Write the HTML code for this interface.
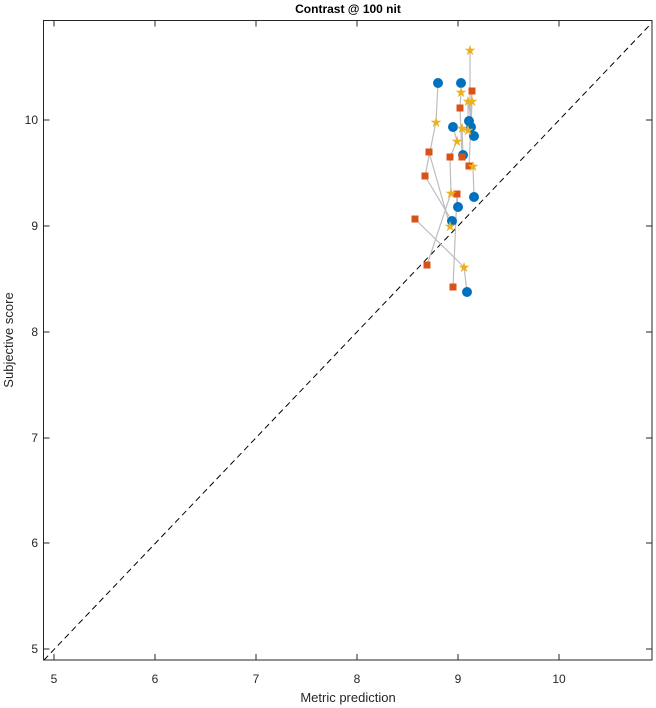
<!DOCTYPE html>
<html><head><style>body{margin:0;background:#fff}svg{display:block;font-family:"Liberation Sans",sans-serif}</style></head>
<body>
<svg width="656" height="708" xmlns="http://www.w3.org/2000/svg">
<rect x="0" y="0" width="656" height="708" fill="#fff"/>
<text x="348" y="13" font-size="12" font-weight="bold" text-anchor="middle" fill="#000">Contrast @ 100 nit</text>
<g stroke="#262626" stroke-width="1">
<line x1="54" y1="660" x2="54" y2="654"/><line x1="155" y1="660" x2="155" y2="654"/><line x1="256" y1="660" x2="256" y2="654"/><line x1="357" y1="660" x2="357" y2="654"/><line x1="458" y1="660" x2="458" y2="654"/><line x1="559" y1="660" x2="559" y2="654"/>
<line x1="54" y1="20.5" x2="54" y2="26.5"/><line x1="155" y1="20.5" x2="155" y2="26.5"/><line x1="256" y1="20.5" x2="256" y2="26.5"/><line x1="357" y1="20.5" x2="357" y2="26.5"/><line x1="458" y1="20.5" x2="458" y2="26.5"/><line x1="559" y1="20.5" x2="559" y2="26.5"/>
<line x1="43.5" y1="649" x2="49.5" y2="649"/><line x1="43.5" y1="543" x2="49.5" y2="543"/><line x1="43.5" y1="438" x2="49.5" y2="438"/><line x1="43.5" y1="332" x2="49.5" y2="332"/><line x1="43.5" y1="226" x2="49.5" y2="226"/><line x1="43.5" y1="120" x2="49.5" y2="120"/>
<line x1="652" y1="649" x2="646" y2="649"/><line x1="652" y1="543" x2="646" y2="543"/><line x1="652" y1="438" x2="646" y2="438"/><line x1="652" y1="332" x2="646" y2="332"/><line x1="652" y1="226" x2="646" y2="226"/><line x1="652" y1="120" x2="646" y2="120"/>
</g>
<g font-size="12" fill="#262626" text-anchor="middle">
<text x="54" y="683">5</text><text x="155" y="683">6</text><text x="256" y="683">7</text><text x="357" y="683">8</text><text x="458" y="683">9</text><text x="559" y="683">10</text>
</g>
<g font-size="12" fill="#262626" text-anchor="end">
<text x="38" y="653">5</text><text x="38" y="547">6</text><text x="38" y="442">7</text><text x="38" y="336">8</text><text x="38" y="230">9</text><text x="38" y="124">10</text>
</g>
<text x="348" y="702" font-size="13" text-anchor="middle" fill="#262626">Metric prediction</text>
<text transform="translate(13,340) rotate(-90)" font-size="13" text-anchor="middle" fill="#262626">Subjective score</text>
<line x1="44" y1="660" x2="652" y2="22.7" stroke="#000" stroke-dasharray="6,4" stroke-width="1"/>
<g stroke="#bdbdbd" stroke-width="1.2" fill="none">
<polyline points="438,83 436,122 425,176 452,221"/>
<polyline points="461,83 461,92 460,108 462,157"/>
<polyline points="470,50 470,121 472,91"/>
<polyline points="471,127 472,101 469,166 473,166 474,197"/>
<polyline points="453,127 457,141 450,157 451,193 427,265"/>
<polyline points="474,136 468,101 468,130 462,128 463,155"/>
<polyline points="458,207 457,194 453,287"/>
<polyline points="415,219 464,267 467,292"/>
<polyline points="429,152 450,226 452,221"/>
</g>
<g fill="#0072bd">
<circle cx="438" cy="83" r="5"/><circle cx="461" cy="83" r="5"/><circle cx="469" cy="121" r="5"/><circle cx="471" cy="127" r="5"/><circle cx="453" cy="127" r="5"/><circle cx="474" cy="136" r="5"/><circle cx="463" cy="155" r="5"/><circle cx="474" cy="197" r="5"/><circle cx="458" cy="207" r="5"/><circle cx="452" cy="221" r="5"/><circle cx="467" cy="292" r="5"/>
</g>
<g fill="#d95319">
<rect x="468.5" y="87.5" width="7" height="7"/><rect x="456.5" y="104.5" width="7" height="7"/><rect x="425.5" y="148.5" width="7" height="7"/><rect x="446.5" y="153.5" width="7" height="7"/><rect x="458.5" y="153.5" width="7" height="7"/><rect x="465.5" y="162.5" width="7" height="7"/><rect x="421.5" y="172.5" width="7" height="7"/><rect x="453.5" y="190.5" width="7" height="7"/><rect x="411.5" y="215.5" width="7" height="7"/><rect x="423.5" y="261.5" width="7" height="7"/><rect x="449.5" y="283.5" width="7" height="7"/>
</g>
<g fill="#edb120" font-size="14" text-anchor="middle">
<text x="470" y="55">★</text><text x="461" y="97">★</text><text x="468" y="106">★</text><text x="472" y="106">★</text><text x="436" y="127">★</text><text x="462" y="133">★</text><text x="468" y="135">★</text><text x="457" y="146">★</text><text x="473" y="171">★</text><text x="451" y="198">★</text><text x="450" y="231">★</text><text x="464" y="272">★</text>
</g>
<rect x="43.5" y="20.5" width="608.5" height="639.5" fill="none" stroke="#262626" stroke-width="1"/>
</svg>
</body></html>
